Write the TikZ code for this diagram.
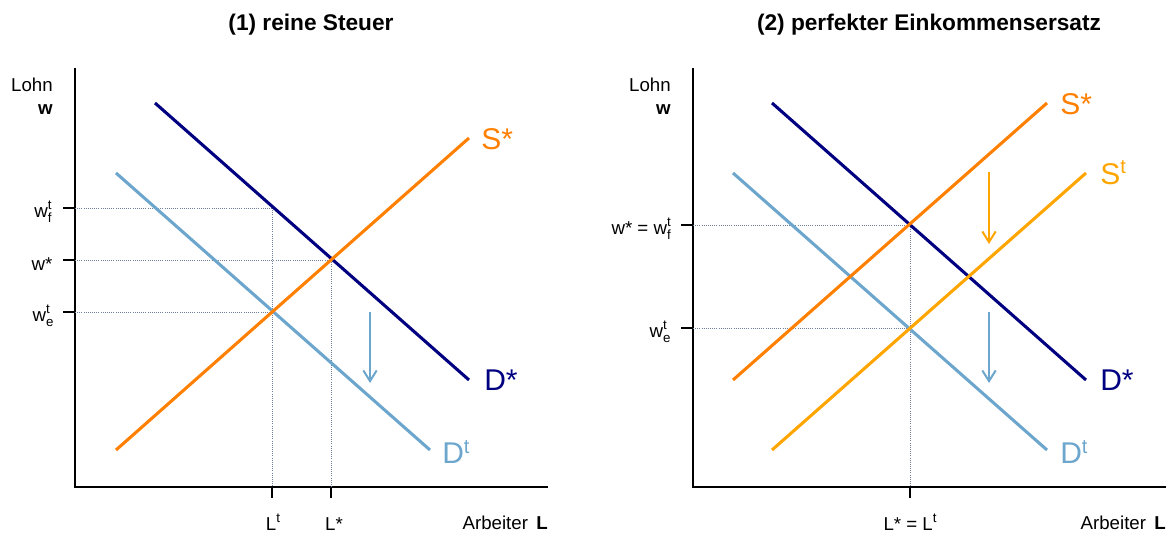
\documentclass[tikz,border=0pt]{standalone}
\usepackage{fontspec}
\setmainfont{Liberation Sans}
\usetikzlibrary{arrows.meta,positioning}
\definecolor{navycol}{HTML}{000080}
\definecolor{orangecol}{HTML}{FF7F00}
\definecolor{ambercol}{HTML}{FFA500}
\definecolor{skycol}{HTML}{6CA6CD}
\definecolor{guidecol}{HTML}{7080A0}
\newcommand{\smallidx}{\fontsize{10}{11}\selectfont}
\newcommand{\supsub}[3]{#1\rlap{\raisebox{6pt}{\smallidx #2}}\raisebox{-3.5pt}{\smallidx #3}}
\newcommand{\supone}[1]{#1\raisebox{6pt}{\smallidx t}}
\newcommand{\supt}[2]{#1\raisebox{8pt}{\fontsize{15}{16}\selectfont #2}}

\begin{document}
\begin{tikzpicture}[
  x=0.75pt, y=-0.75pt,
  font=\fontsize{14}{17}\selectfont,
  axis/.style={line width=0.8pt},
  tick/.style={line width=0.8pt},
  guide/.style={densely dotted,guidecol,line width=0.6pt},
  curve/.style={line width=2.3pt},
  shiftarr/.style={line width=1.5pt,-{Straight Barb[length=8pt,width=10pt]}},
  cvlab/.style={font=\fontsize{22.5}{26}\selectfont,anchor=west,inner sep=0pt},
  ticklab/.style={inner sep=0pt},
  ttl/.style={font=\fontsize{17}{20}\selectfont\bfseries},
]
\useasboundingbox (0,0) rectangle (1171,538);

% titles
\node[ttl] (ttlA) at (311,25) {(1) reine Steuer};
\node[ttl] (ttlB) at (929,25) {(2) perfekter Einkommensersatz};

% ---------- panel 1 ----------
\coordinate (oA) at (75,487);
\coordinate (ytopA) at (75,68);
\coordinate (xendA) at (548,487);
\draw[axis] (ytopA) -- (oA) -- (xendA);
\node[anchor=east,align=right,inner sep=0pt] (lohnA) at (53,96) {Lohn\\\textbf{w}};
\node[anchor=north east,inner sep=0pt] (arbA) at (548,516) {Arbeiter \,\textbf{L}};

\coordinate (dsA1) at (155,103);  \coordinate (dsA2) at (469,380);
\coordinate (dtA1) at (116,173);  \coordinate (dtA2) at (430,450);
\coordinate (ssA1) at (116,450);  \coordinate (ssA2) at (469,138);
\coordinate (eqA) at (331,260);
\coordinate (etA) at (272,312);
\coordinate (ftA) at (272,208);

% guides and ticks
\foreach \yy/\nm in {208/wf,260/ws,312/we}{
  \coordinate (\nm A) at (75,\yy);
  \draw[tick] (\nm A) -- ++(-12,0);
}
\draw[guide] (wfA) -- (ftA);
\draw[guide] (wsA) -- (eqA);
\draw[guide] (weA) -- (etA);
\coordinate (ltA) at (272,487);
\coordinate (lsA) at (331,487);
\draw[guide] (ftA) -- (ltA);
\draw[guide] (eqA) -- (lsA);
\draw[tick] (ltA) -- ++(0,11);
\draw[tick] (lsA) -- ++(0,11);

\node[ticklab] (wfLabA) at (43,212) {\supsub{w}{t}{f}};
\node[ticklab] (wsLabA) at (42,264) {w*};
\node[ticklab] (weLabA) at (43,316) {\supsub{w}{t}{e}};
\node[ticklab] (ltLabA) at (273,522) {\supone{L}};
\node[ticklab] (lsLabA) at (334,524) {L*};

% curves
\draw[curve,navycol] (dsA1) -- (dsA2);
\draw[curve,skycol] (dtA1) -- (dtA2);
\draw[curve,orangecol] (ssA1) -- (ssA2);
\node[cvlab,orangecol] (ssLabA) at (481,139) {S*};
\node[cvlab,navycol] (dsLabA) at (484,380) {D*};
\node[cvlab,skycol] (dtLabA) at (442,452) {\supt{D}{t}};

\coordinate (arA1) at (370,312);
\coordinate (arA2) at (370,383);
\draw[shiftarr,skycol] (arA1) -- (arA2);

% ---------- panel 2 ----------
\coordinate (oB) at (693,487);
\coordinate (ytopB) at (693,68);
\coordinate (xendB) at (1166,487);
\draw[axis] (ytopB) -- (oB) -- (xendB);
\node[anchor=east,align=right,inner sep=0pt] (lohnB) at (671,96) {Lohn\\\textbf{w}};
\node[anchor=north east,inner sep=0pt] (arbB) at (1166,516) {Arbeiter \,\textbf{L}};

\coordinate (dsB1) at (772,103);  \coordinate (dsB2) at (1086,380);
\coordinate (dtB1) at (733,173);  \coordinate (dtB2) at (1047,450);
\coordinate (ssB1) at (733,380);  \coordinate (ssB2) at (1047,103);
\coordinate (stB1) at (772,450);  \coordinate (stB2) at (1086,173);
\coordinate (eqB) at (910,225);
\coordinate (etB) at (910,328);

\coordinate (wsB) at (693,225);
\coordinate (weB) at (693,328);
\coordinate (lsB) at (910,487);
\draw[tick] (wsB) -- ++(-12,0);
\draw[tick] (weB) -- ++(-12,0);
\draw[guide] (wsB) -- (eqB);
\draw[guide] (weB) -- (etB);
\draw[guide] (eqB) -- (lsB);
\draw[tick] (lsB) -- ++(0,11);

\node[ticklab,anchor=east] (wsLabB) at (671,229) {w* = \supsub{w}{t}{f}};
\node[ticklab] (weLabB) at (660,332) {\supsub{w}{t}{e}};
\node[ticklab] (lsLabB) at (910,522) {L* = \supone{L}};

\draw[curve,navycol] (dsB1) -- (dsB2);
\draw[curve,skycol] (dtB1) -- (dtB2);
\draw[curve,orangecol] (ssB1) -- (ssB2);
\draw[curve,ambercol] (stB1) -- (stB2);
\node[cvlab,orangecol] (ssLabB) at (1060,104) {S*};
\node[cvlab,ambercol] (stLabB) at (1100,173) {\supt{S}{t}};
\node[cvlab,navycol] (dsLabB) at (1100,380) {D*};
\node[cvlab,skycol] (dtLabB) at (1060,452) {\supt{D}{t}};

\coordinate (arB1) at (989,172);
\coordinate (arB2) at (989,244);
\coordinate (arB3) at (989,312);
\coordinate (arB4) at (989,383);
\draw[shiftarr,ambercol] (arB1) -- (arB2);
\draw[shiftarr,skycol] (arB3) -- (arB4);
\end{tikzpicture}
\end{document}
